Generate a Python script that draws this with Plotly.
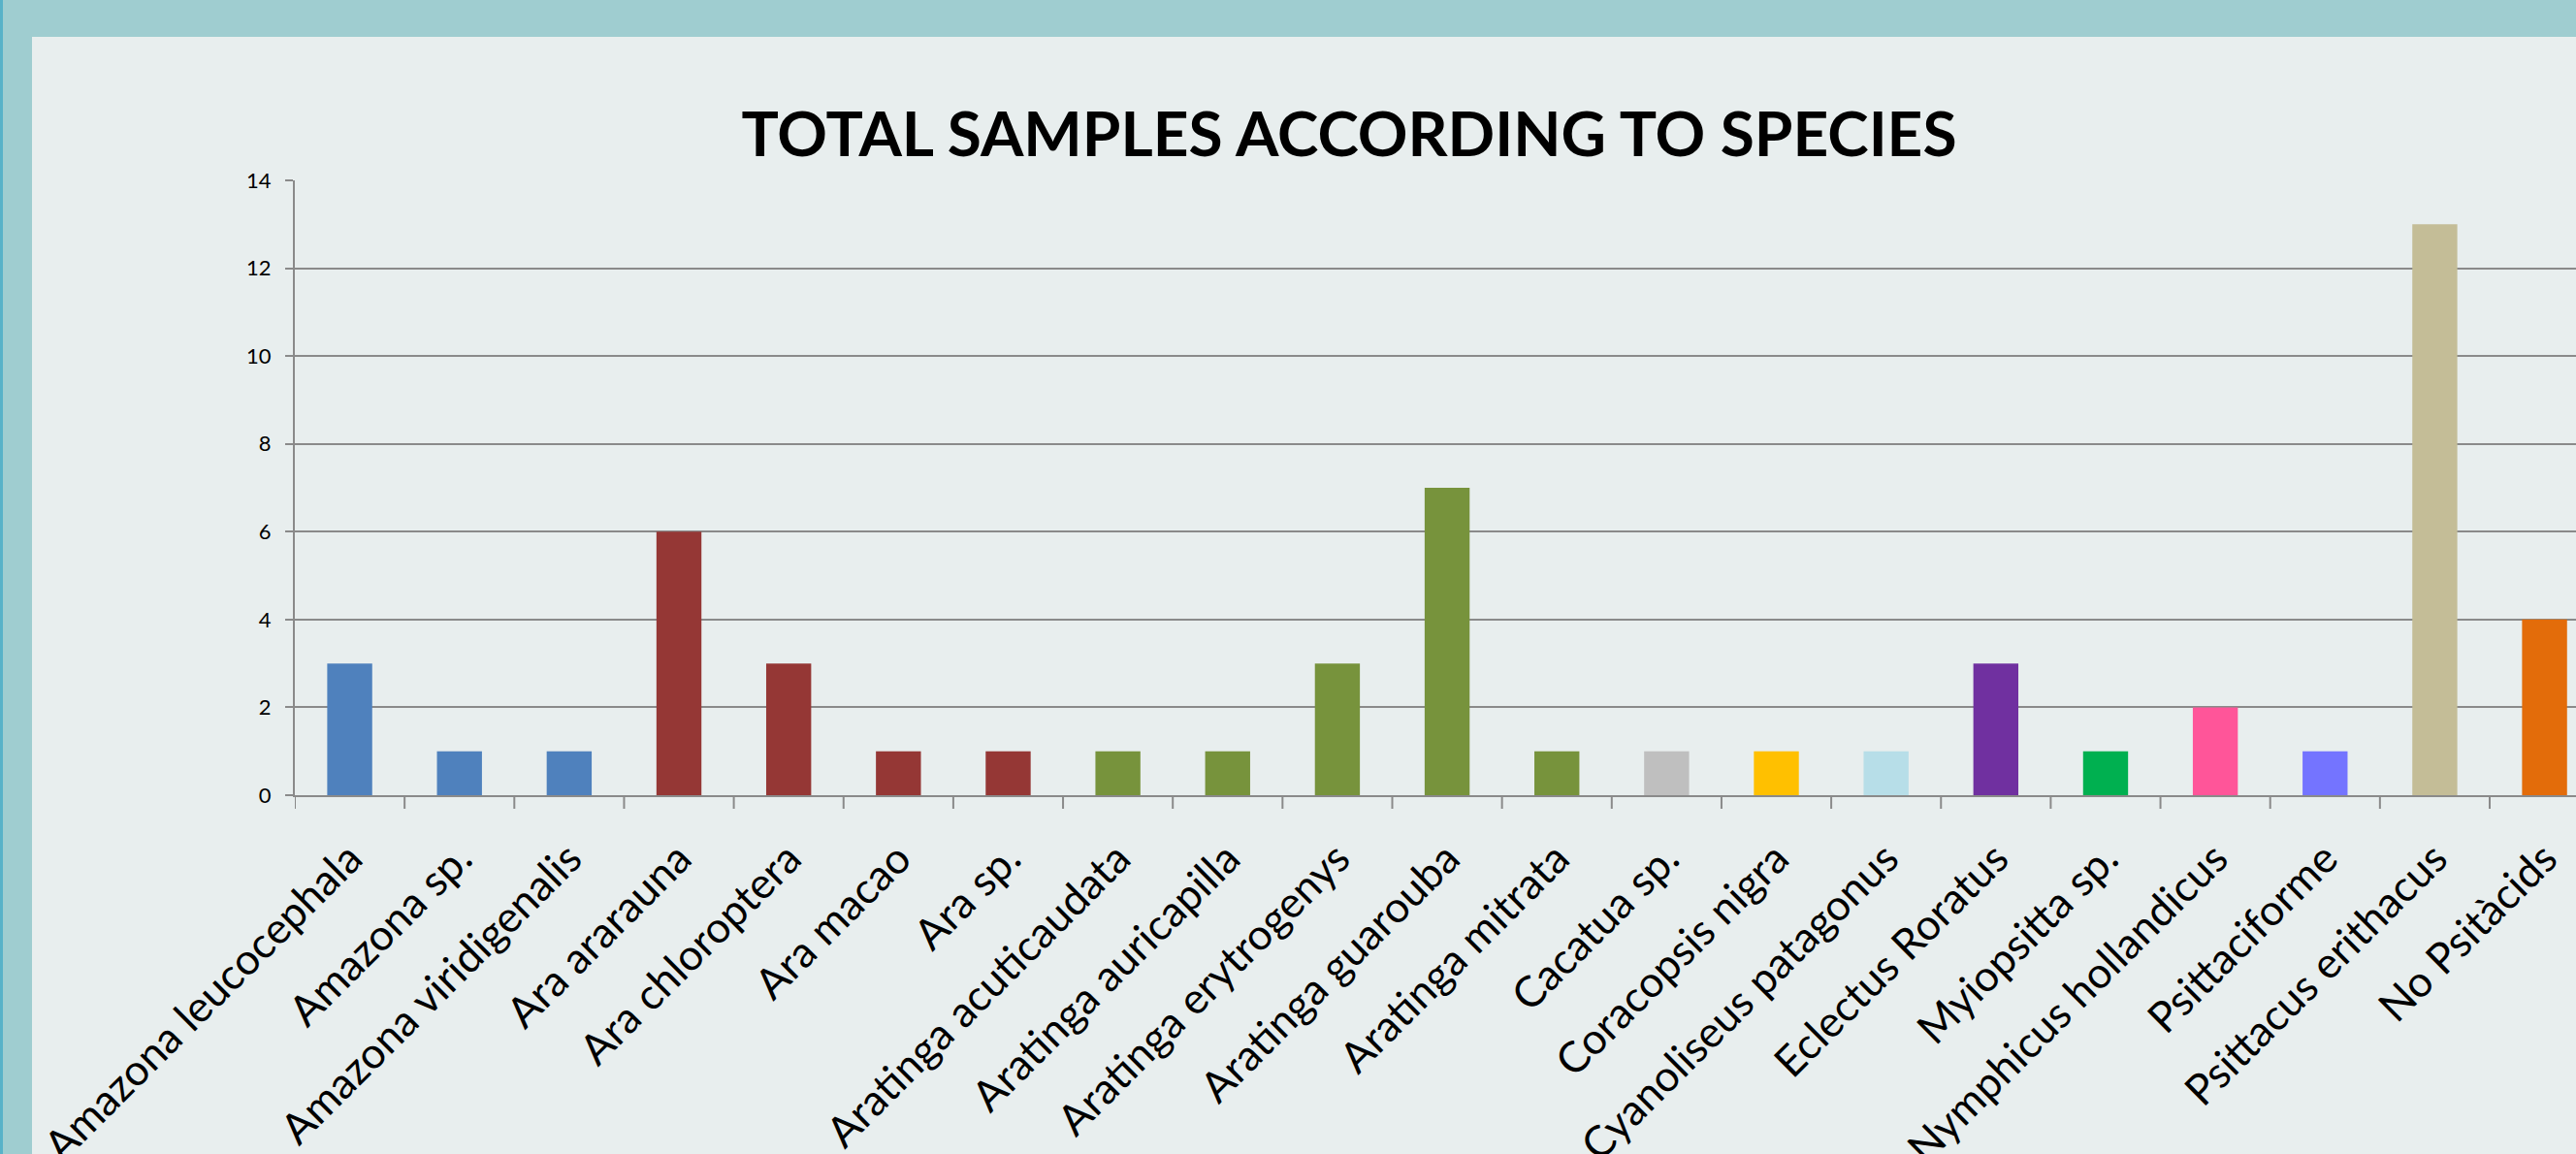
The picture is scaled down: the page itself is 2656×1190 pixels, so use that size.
import plotly.graph_objects as go

species = [
    "Amazona leucocephala", "Amazona sp.", "Amazona viridigenalis",
    "Ara ararauna", "Ara chloroptera", "Ara macao", "Ara sp.",
    "Aratinga acuticaudata", "Aratinga auricapilla", "Aratinga erytrogenys",
    "Aratinga guarouba", "Aratinga mitrata", "Cacatua sp.", "Coracopsis nigra",
    "Cyanoliseus patagonus", "Eclectus Roratus", "Myiopsitta sp.",
    "Nymphicus hollandicus", "Psittaciforme", "Psittacus erithacus", "No Psitàcids",
]
samples = [3, 1, 1, 6, 3, 1, 1, 1, 1, 3, 7, 1, 1, 1, 1, 3, 1, 2, 1, 13, 4]
y_ticks = [0, 2, 4, 6, 8, 10, 12, 14]

BLUE, RED, GREEN = "#4F81BD", "#953735", "#77933C"
bar_colors = [BLUE] * 3 + [RED] * 4 + [GREEN] * 5 + [
    "#BFBFBF", "#FFC000", "#B7DEE8", "#7030A0", "#00B050",
    "#FF5599", "#7474FF", "#C4BD97", "#E36C0A",
]

W, H = 2656, 1190
L, R, T, B = 304, 2656, 186, 820
GRID = "#8A8A8A"


def px_x(px):
    return (px - L) / (R - L)


def px_y(py):
    return (B - py) / (B - T)


fig = go.Figure(
    go.Bar(
        x=list(range(len(species))),
        y=samples,
        marker=dict(color=bar_colors, line=dict(width=0)),
        width=0.41,
        cliponaxis=False,
    )
)

teal = "rgb(159,205,208)"
shapes = [
    dict(type="rect", xref="paper", yref="paper", x0=px_x(0), x1=px_x(W),
         y0=px_y(38), y1=px_y(0), fillcolor=teal, line=dict(width=0), layer="below"),
    dict(type="rect", xref="paper", yref="paper", x0=px_x(0), x1=px_x(33),
         y0=px_y(H), y1=px_y(0), fillcolor=teal, line=dict(width=0), layer="below"),
    dict(type="rect", xref="paper", yref="paper", x0=px_x(0), x1=px_x(3),
         y0=px_y(H), y1=px_y(0), fillcolor="rgb(88,178,200)", line=dict(width=0), layer="below"),
]

fig.update_layout(
    template="none",
    width=W,
    height=H,
    margin=dict(l=L, r=W - R, t=T, b=H - B, pad=0, autoexpand=False),
    paper_bgcolor="rgb(232,238,238)",
    plot_bgcolor="rgba(0,0,0,0)",
    showlegend=False,
    shapes=shapes,
    title=dict(
        text="TOTAL SAMPLES ACCORDING TO SPECIES",
        xref="container", yref="container",
        x=1391 / W, y=1 - 139 / H, xanchor="center", yanchor="middle",
        font=dict(family="Lato", size=64, color="black", weight=700),
        automargin=False,
    ),
    font=dict(family="Lato", color="black"),
    xaxis=dict(
        type="linear",
        automargin=False,
        range=[-0.5, -0.5 + (R - L) / 113.15],
        tickmode="array",
        tickvals=list(range(len(species))),
        ticktext=species,
        tickangle=-45,
        tickfont=dict(family="Lato", size=44, color="black"),
        showgrid=False,
        zeroline=False,
        showline=True,
        linecolor=GRID,
        linewidth=2,
        ticks="",
        ticklabelstandoff=20,
    ),
    yaxis=dict(
        automargin=False,
        range=[0, 14],
        tickmode="array",
        tickvals=y_ticks,
        tickfont=dict(family="Lato", size=22, color="black"),
        showgrid=True,
        gridcolor=GRID,
        gridwidth=2,
        zeroline=False,
        showline=True,
        linecolor=GRID,
        linewidth=2,
        ticks="outside",
        ticklen=8,
        tickcolor=GRID,
        tickwidth=2,
        ticklabelstandoff=10,
    ),
)

for i in range(len(species) + 1):
    fig.add_shape(type="line", xref="x", yref="paper", x0=i - 0.5, x1=i - 0.5,
                  y0=0, y1=px_y(B + 14), line=dict(color=GRID, width=2))

fig.write_html("out.html")
